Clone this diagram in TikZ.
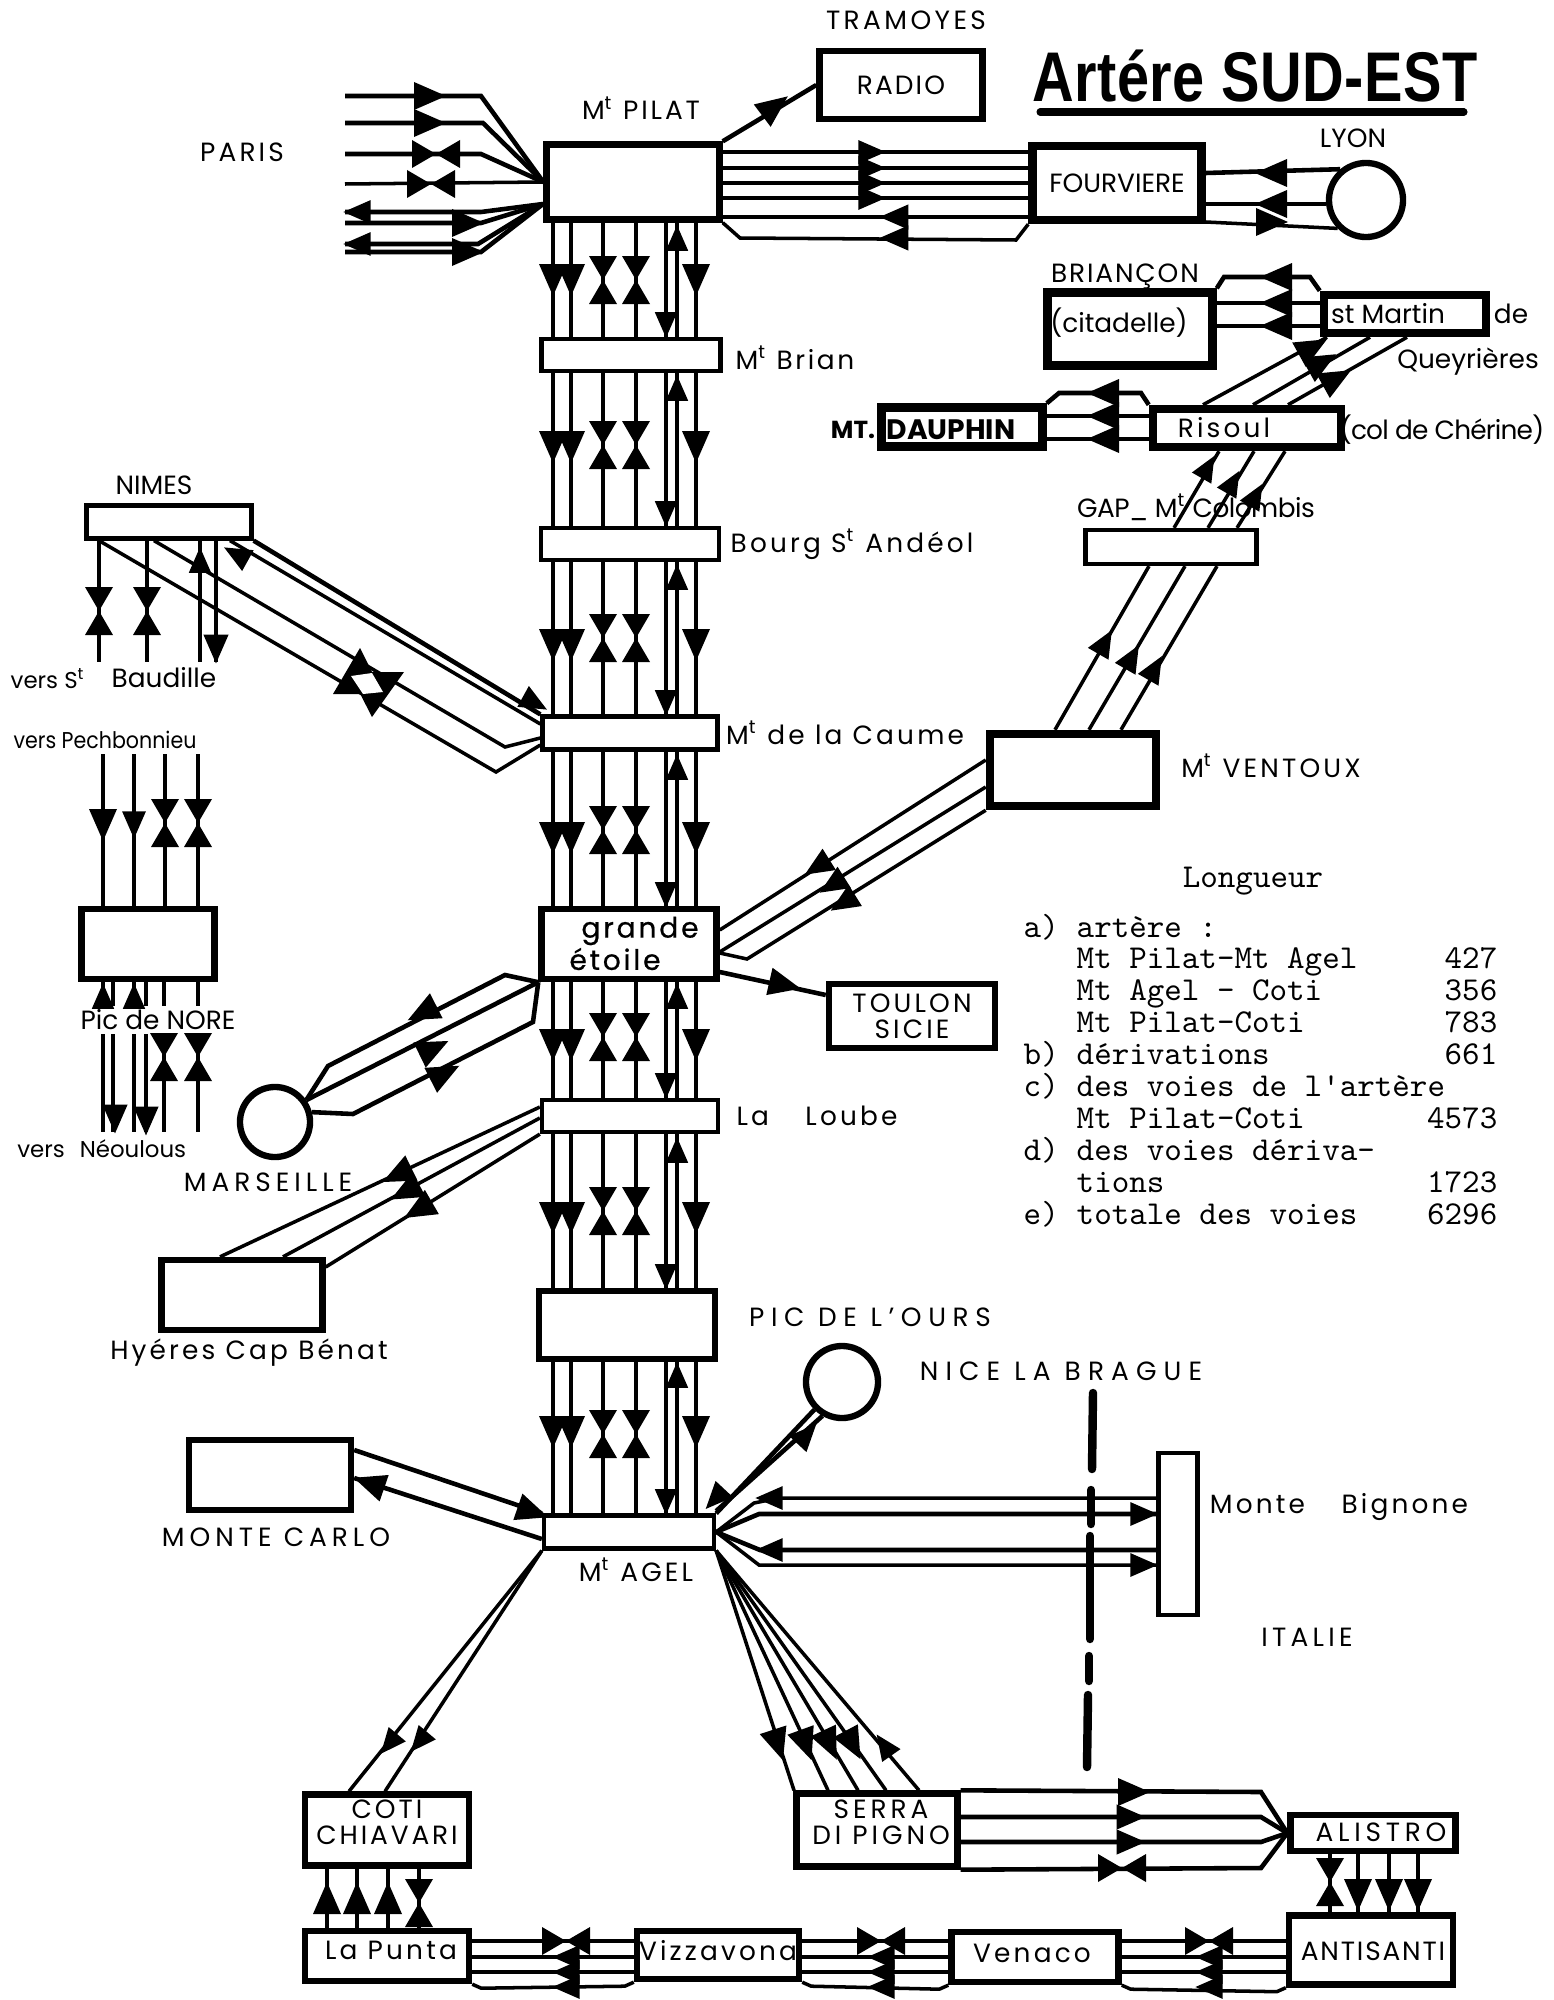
\documentclass[tikz,border=0pt]{standalone}
\usepackage{fontspec}
\setmainfont{Poppins}
\newfontfamily\titlefont{Liberation Sans}
\usetikzlibrary{arrows,shapes,calc,positioning}
\tikzset{
	wire/.style={line width=1pt},
	fat/.style={line width=1.3pt},
	frontier/.style={line width=2.4pt, line cap=round},
	stn/.style={draw, line width=1.2pt, inner sep=0pt, align=center},
	stnfat/.style={stn, line width=1.8pt},
	stnheavy/.style={stn, line width=2.4pt},
	town/.style={circle, draw, line width=1.8pt, inner sep=0pt},
	lab/.style={font=\fontsize{7.5}{8.5}\selectfont, inner sep=0pt, align=center},
	spaced/.style={font=\fontsize{7.5}{7.5}\selectfont\addfontfeature{LetterSpace=#1}, inner sep=0pt, align=center},
	heavylab/.style={font=\fontsize{8}{8}\selectfont\addfontfeature{FakeBold=0.6,LetterSpace=10}, inner sep=0pt},
	boldlab/.style={font=\fontsize{#1}{#1}\bfseries\selectfont, inner sep=0pt},
	small/.style={font=\fontsize{6.5}{7}\selectfont, inner sep=0pt},
	legend/.style={font=\ttfamily\fontsize{9.5}{9.5}\selectfont, inner sep=0pt},
}
% one filled arrow head, and two heads tip to tip
\newcommand{\tipmark}[4][1]{\fill [shift={(#2,#3)}, rotate=#4, scale=#1] (16,0) -- (-16,14) -- (-16,-14) -- cycle;}
\newcommand{\bowmark}[4][1]{\fill [shift={(#2,#3)}, rotate=#4, scale=#1] (0,0) -- (24,14) -- (24,-14) -- cycle (0,0) -- (-24,14) -- (-24,-14) -- cycle;}
% seven lines of the main artery between two stations
\newcommand{\trunk}[6]{
	\foreach \xv in {553,571,603,636,666,677,696}
		\draw [wire] (#1.south -| \xv,0) -- (#2.north -| \xv,0);
	\foreach \xv in {553,571,696}
		\tipmark{\xv}{#3}{-90};
	\foreach \xv in {603,636}
		\bowmark{\xv}{#4}{90};
	\tipmark[0.8]{666}{#5}{-90}
	\tipmark[0.8]{677}{#6}{90}
}
% a band of lines with left heads and a bowtie on top, between two boxes
\newcommand{\corse}[3]{
	\foreach \yv in {1941,1957,1972}
		\draw [wire] (#1.east |- 0,\yv) -- (#2.west |- 0,\yv);
	\draw [wire] (#1.south east) -- ($(#1.south east)+(9,4)$) -- ($(#2.south west)+(-9,4)$) -- (#2.south west);
	\bowmark{#3}{1941}{0}
	\foreach \yv in {1957,1972,1987}
		\tipmark[0.85]{#3}{\yv}{180};
}
\begin{document}
\begin{tikzpicture}[x=0.01cm,y=-0.01cm]
	\useasboundingbox (0,0) rectangle (1553,2000);
	% stations of the artery
	\node [stnfat, minimum width=1.73cm, minimum height=0.75cm] (pilat) at (633,182) {};
	\node [stn, minimum width=1.79cm, minimum height=0.32cm] (brian) at (631,355) {};
	\node [stn, minimum width=1.78cm, minimum height=0.32cm] (bourg) at (630,544) {};
	\node [stn, minimum width=1.75cm, minimum height=0.33cm] (caume) at (630,733) {};
	\node [stnfat, minimum width=1.75cm, minimum height=0.70cm] (etoile) at (629,944) {};
	\node [stn, minimum width=1.76cm, minimum height=0.32cm] (loube) at (630,1116) {};
	\node [stnfat, minimum width=1.76cm, minimum height=0.68cm] (ours) at (627,1325) {};
	\node [stn, minimum width=1.70cm, minimum height=0.33cm] (agel) at (629,1532) {};
	% other stations
	\node [stnfat, minimum width=1.63cm, minimum height=0.68cm, spaced=8] (radio) at (901,85) {RADIO};
	\node [stnheavy, minimum width=1.69cm, minimum height=0.74cm, lab] (fourv) at (1117,183) {FOURVIERE};
	\node [town, minimum size=0.74cm] (lyon) at (1366,200) {};
	\node [stnheavy, minimum width=1.65cm, minimum height=0.73cm] (citadelle) at (1130,329) {};
	\node [stnheavy, minimum width=1.62cm, minimum height=0.38cm] (martin) at (1405,314) {};
	\node [stnheavy, minimum width=1.88cm, minimum height=0.38cm] (risoul) at (1247,428) {};
	\node [stnheavy, minimum width=1.61cm, minimum height=0.39cm] (dauphin) at (962,427) {};
	\node [stn, minimum width=1.71cm, minimum height=0.34cm] (gap) at (1171,547) {};
	\node [stnheavy, minimum width=1.66cm, minimum height=0.72cm] (ventoux) at (1073,770) {};
	\node [stnfat, minimum width=1.66cm, minimum height=0.64cm, spaced=12] (toulon) at (912,1016) {TOULON\\SICIE};
	\node [stn, minimum width=1.65cm, minimum height=0.33cm] (nimes) at (169,522) {};
	\node [stnfat, minimum width=1.33cm, minimum height=0.70cm] (nore) at (148,944) {};
	\node [town, minimum size=0.70cm] (marseille) at (275,1122) {};
	\node [stnfat, minimum width=1.61cm, minimum height=0.70cm] (hyeres) at (242,1295) {};
	\node [stnfat, minimum width=1.62cm, minimum height=0.70cm] (montecarlo) at (270,1475) {};
	\node [town, minimum size=0.72cm] (nice) at (842,1382) {};
	\node [stn, minimum width=0.39cm, minimum height=1.62cm] (bignone) at (1178,1534) {};
	\node [stnfat, minimum width=1.64cm, minimum height=0.71cm] (coti) at (387,1830) {};
	\node [stnfat, minimum width=1.64cm, minimum height=0.50cm] (punta) at (387,1956) {};
	\node [stnfat, minimum width=1.62cm, minimum height=0.48cm] (vizz) at (718,1955) {};
	\node [stnfat, minimum width=1.67cm, minimum height=0.50cm] (venaco) at (1035,1957) {};
	\node [stnfat, minimum width=1.64cm, minimum height=0.69cm] (antisanti) at (1371,1950) {};
	\node [stnfat, minimum width=1.65cm, minimum height=0.36cm] (alistro) at (1373,1833) {};
	\node [stnfat, minimum width=1.61cm, minimum height=0.73cm] (serra) at (877,1830) {};
	% main artery
	\trunk{pilat}{brian}{280}{280}{325}{238}
	\trunk{brian}{bourg}{447}{445}{514}{388}
	\trunk{bourg}{caume}{645}{638}{703}{577}
	\trunk{caume}{etoile}{838}{830}{895}{767}
	\trunk{etoile}{loube}{1045}{1037}{1086}{996}
	\trunk{loube}{ours}{1218}{1211}{1277}{1150}
	\trunk{ours}{agel}{1432}{1434}{1502}{1375}
	% Paris
	\foreach \n/\yv in {a/96,b/123,c/154,d/184,e/212,f/223,g/244,h/252}
		\coordinate (paris\n) at (345,\yv);
	\coordinate (pilatfan) at (543,204);
	\draw [fat] (parisa) -- (481,96) -- (pilat.west);
	\draw [fat] (parisb) -- (483,123) -- (pilat.west);
	\draw [fat] (parisc) -- (481,154) -- (pilat.west);
	\draw [wire] (parisd) -- (pilat.west);
	\draw [fat] (parise) -- (481,212) -- (pilatfan);
	\draw [fat] (parisf) -- (481,223) -- (pilatfan);
	\draw [fat] (parisg) -- (478,244) -- (pilatfan);
	\draw [fat] (parish) -- (481,252) -- (pilatfan);
	\tipmark{430}{96}{0}
	\tipmark{430}{123}{0}
	\bowmark{436}{154}{0}
	\bowmark{431}{184}{0}
	\tipmark[0.85]{357}{212}{180}
	\tipmark{468}{223}{0}
	\tipmark[0.85]{357}{244}{180}
	\tipmark{468}{252}{0}
	% Radio, Fourviere, Lyon
	\draw [fat] (pilat.north east) -- (radio.west);
	\tipmark{775}{106}{37}
	\foreach \yv in {152,168,183,198,217}
		\draw [wire] (pilat.east |- 0,\yv) -- (fourv.west |- 0,\yv);
	\draw [wire] (pilat.south east) -- (740,238) -- (1016,240) -- (fourv.south west);
	\foreach \yv in {152,168,183,198}
		\tipmark[0.85]{872}{\yv}{0};
	\tipmark[0.9]{894}{217}{180}
	\tipmark[0.9]{894}{238}{180}
	\draw [fat] (fourv.east |- 0,173) -- (lyon.130);
	\draw [fat] (fourv.east |- 0,204) -- (lyon.west |- 0,204);
	\draw [wire] (fourv.east |- 0,222) -- (lyon.-135);
	\tipmark{1271}{173}{180}
	\tipmark{1271}{204}{180}
	\tipmark{1272}{222}{0}
	% Briancon, St Martin, Risoul, Dauphin
	\draw [fat] (citadelle.north east) -- (1224,277) -- (1310,277) -- (martin.north west);
	\foreach \yv in {303,326}
		\draw [fat] (citadelle.east |- 0,\yv) -- (martin.west |- 0,\yv);
	\foreach \yv in {277,303,326}
		\tipmark{1276}{\yv}{180};
	\draw [fat] (dauphin.north east) -- (1059,393) -- (1141,393) -- (risoul.north west);
	\foreach \yv in {416,439}
		\draw [fat] (dauphin.east |- 0,\yv) -- (risoul.west |- 0,\yv);
	\foreach \yv in {393,416,439}
		\tipmark{1103}{\yv}{180};
	\foreach \xa/\xb in {1203/1327,1253/1370,1288/1407}
		\draw [wire] (risoul.north -| \xa,0) -- (martin.south -| \xb,0);
	\tipmark{1313}{347}{29}
	\tipmark{1322}{362}{29}
	\tipmark{1337}{378}{29}
	% Gap, Ventoux
	\foreach \xa/\xb in {1174/1219,1208/1254,1237/1285}
		\draw [wire] (gap.north -| \xa,0) -- (risoul.south -| \xb,0);
	\tipmark[0.8]{1208}{467}{60}
	\tipmark[0.8]{1233}{482}{60}
	\tipmark[0.8]{1256}{495}{60}
	\foreach \xa/\xb in {1055/1149,1089/1185,1121/1217}
		\draw [wire] (ventoux.north -| \xa,0) -- (gap.south -| \xb,0);
	\tipmark[0.85]{1105}{642}{60}
	\tipmark[0.85]{1132}{657}{60}
	\tipmark[0.85]{1155}{668}{60}
	\draw [wire] (etoile.east |- 0,930) -- (ventoux.west |- 0,760);
	\draw [wire] (etoile.east |- 0,952) -- (ventoux.west |- 0,787);
	\draw [wire] (etoile.east |- 0,953) -- (747,959) -- (ventoux.south west);
	\tipmark[0.9]{817}{867}{212}
	\tipmark[0.9]{832}{885}{212}
	\tipmark[0.9]{843}{903}{212}
	% Toulon
	\draw [fat] (etoile.east |- 0,972) -- (toulon.west |- 0,995);
	\tipmark{785}{985}{-13}
	% Nimes
	\foreach \xv in {99,147,200,216}
		\draw [fat] (nimes.south -| \xv,0) -- (\xv,662);
	\foreach \xv in {99,147}
		\bowmark{\xv}{611}{90};
	\tipmark[0.8]{200}{560}{90}
	\tipmark[0.9]{216}{649}{-90}
	\draw [fat] (nimes.south east) -- (caume.north west);
	\draw [wire] (nimes.south -| 230,0) -- (caume.west |- 0,724);
	\tipmark[0.85]{236}{554}{151}
	\tipmark[0.85]{535}{703}{-29}
	\draw [wire] (nimes.south -| 154,0) -- (505,747) -- (caume.west |- 0,738);
	\draw [wire] (nimes.south -| 99,0) -- (496,772) -- (caume.west |- 0,745);
	\fill (360,648) -- (333,694) -- (383,694) -- cycle;
	\fill (372,717) -- (349,672) -- (404,672) -- cycle;
	\fill [white] (351,676) -- (372,673) -- (383,692) -- (363,694) -- cycle;
	% Pic de Nore
	\foreach \xv in {103,134,165,198}
		\draw [fat] (\xv,754) -- (nore.north -| \xv,0);
	\tipmark{103}{825}{-90}
	\tipmark[0.85]{134}{825}{-90}
	\bowmark{165}{823}{90}
	\bowmark{198}{823}{90}
	\foreach \xv in {103,113,134,146,164,198}
		\draw [fat] (nore.south -| \xv,0) -- (\xv,1006) (\xv,1034) -- (\xv,1132);
	\tipmark[0.8]{103}{996}{90}
	\tipmark[0.8]{134}{996}{90}
	\tipmark[0.9]{115}{1119}{-90}
	\tipmark[0.9]{146}{1121}{-90}
	\bowmark{164}{1057}{90}
	\bowmark{198}{1057}{90}
	% Marseille
	\draw [fat] (marseille.35) -- (328,1066) -- (505,975) -- (etoile.south west);
	\draw [fat] (marseille.35) -- (etoile.south west);
	\draw [fat] (marseille.15) -- (353,1114) -- (533,1022) -- (etoile.south west);
	\tipmark{422}{1013}{207}
	\tipmark{434}{1048}{26}
	\tipmark{445}{1073}{27}
	% Hyeres
	\draw [wire] (hyeres.north -| 220,0) -- (loube.west |- 0,1107);
	\draw [wire] (hyeres.north -| 283,0) -- (loube.west |- 0,1118);
	\draw [wire] (hyeres.east |- 0,1267) -- (loube.south west);
	\tipmark{397}{1175}{206}
	\tipmark{405}{1192}{208}
	\tipmark{418}{1210}{210}
	% Monte Carlo
	\draw [fat] (montecarlo.east |- 0,1450) -- (agel.north west);
	\draw [fat] (montecarlo.east |- 0,1478) -- (agel.west |- 0,1539);
	\tipmark{533}{1512}{-19}
	\tipmark{369}{1483}{161}
	% Nice
	\draw [fat] (nice.-135) -- (agel.north east);
	\draw [fat] (nice.-120) -- (agel.east |- 0,1511);
	\tipmark[0.85]{715}{1499}{227}
	\tipmark[0.85]{807}{1434}{47}
	% Monte Bignone
	\draw [wire] (bignone.west |- 0,1498) -- (779,1498) -- (754,1503) -- (agel.east);
	\draw [fat] (agel.east) -- (759,1514) -- (bignone.west |- 0,1514);
	\draw [fat] (agel.east) -- (760,1550) -- (bignone.west |- 0,1550);
	\draw [wire] (agel.east) -- (759,1565) -- (bignone.west |- 0,1565);
	\tipmark[0.85]{769}{1498}{180}
	\tipmark[0.85]{769}{1550}{180}
	\tipmark[0.85]{1144}{1514}{0}
	\tipmark[0.85]{1144}{1565}{0}
	% frontier
	\draw [frontier] (1093,1393) -- (1092,1469);
	\draw [frontier] (1091,1490) -- (1091,1524);
	\draw [frontier] (1090,1536) -- (1090,1639);
	\draw [frontier] (1089,1656) -- (1089,1681);
	\draw [frontier] (1088,1695) -- (1087,1767);
	% Coti, La Punta
	\foreach \xa in {349,385}
		\draw [wire] (coti.north -| \xa,0) -- (agel.south west);
	\tipmark[0.8]{389}{1744}{230}
	\tipmark[0.8]{419}{1742}{230}
	\foreach \xv in {327,357,388,419}
		\draw [fat] (punta.north -| \xv,0) -- (coti.south -| \xv,0);
	\foreach \xv in {327,357,388}
		\tipmark{\xv}{1898}{90};
	\bowmark{419}{1903}{90}
	% Serra, Alistro, Antisanti
	\foreach \xv in {794,828,858,886,919}
		\draw [wire] (agel.south east) -- (serra.north -| \xv,0);
	\tipmark{778}{1745}{-72}
	\tipmark{806}{1745}{-70}
	\tipmark{830}{1745}{-65}
	\tipmark{853}{1745}{-62}
	\tipmark[0.8]{884}{1745}{125}
	\draw [fat] (serra.north east) -- (1261,1792) -- (alistro.west);
	\draw [fat] (serra.east |- 0,1817) -- (1261,1817) -- (alistro.west);
	\draw [fat] (serra.east |- 0,1842) -- (1261,1842) -- (alistro.west);
	\draw [fat] (serra.south east) -- (1261,1868) -- (alistro.west);
	\tipmark{1134}{1792}{0}
	\tipmark[0.9]{1131}{1817}{0}
	\tipmark[0.9]{1131}{1842}{0}
	\bowmark{1122}{1868}{0}
	\foreach \xv in {1330,1358,1389,1418}
		\draw [fat] (alistro.south -| \xv,0) -- (antisanti.north -| \xv,0);
	\bowmark{1330}{1882}{90}
	\foreach \xv in {1358,1389,1418}
		\tipmark{\xv}{1895}{-90};
	\corse{punta}{vizz}{566}
	\corse{vizz}{venaco}{881}
	\corse{venaco}{antisanti}{1209}
	% names
	\node [spaced=13] (ltramoyes) at (906,20) {TRAMOYES};
	\node [spaced=11] (lpilat) at (641,108) {M\textsuperscript{t} PILAT};
	\node [spaced=12] (lparis) at (242,152) {PARIS};
	\node [transform shape, xscale=0.82, font=\titlefont\bfseries\fontsize{20}{20}\selectfont\addfontfeature{LetterSpace=1}, inner sep=0pt] (title) at (1255,76) {Artére SUD-EST};
	\draw [line width=2pt, line cap=round] (1040,112) -- (1464,112);
	\node [lab] (llyon) at (1353,138) {LYON};
	\node [spaced=10] (lbrian) at (795,358) {M\textsuperscript{t} Brian};
	\node [spaced=12] (lbourg) at (852,544) {Bourg S\textsuperscript{t} Andéol};
	\node [spaced=12] (lcaume) at (845,733) {M\textsuperscript{t} de la Caume};
	\node [heavylab] (lgrande) at (640,931) {grande};
	\node [heavylab] (letoile) at (615,959) {étoile};
	\node [spaced=12] (lloube) at (817,1116) {La \quad Loube};
	\node [spaced=25] (lours) at (870,1317) {PIC DE L'OURS};
	\node [spaced=27] (lnice) at (1061,1371) {NICE LA BRAGUE};
	\node [spaced=12] (lbignone) at (1339,1507) {Monte \quad Bignone};
	\node [spaced=16] (litalie) at (1307,1637) {ITALIE};
	\node [spaced=12] (lagel) at (636,1570) {M\textsuperscript{t} AGEL};
	\node [spaced=19] (lmontecarlo) at (276,1537) {MONTE CARLO};
	\node [spaced=12] (lhyeres) at (249,1353) {Hyéres Cap Bénat};
	\node [spaced=19] (lmarseille) at (268,1182) {MARSEILLE};
	\node [spaced=7] (lbriancon) at (1125,277) {BRIANÇON};
	\node [lab] (lcitadelle) at (1119,323) {(citadelle)};
	\node [lab] (lmartin) at (1388,314) {st Martin};
	\node [lab] (lde) at (1511,314) {de};
	\node [lab] (lqueyrieres) at (1468,362) {Queyrières};
	\node [boldlab=7] (lmt) at (853,430) {MT.};
	\node [boldlab=8] (ldauphin) at (951,430) {DAUPHIN};
	\node [spaced=12] (lrisoul) at (1224,428) {Risoul};
	\node [spaced=-3] (lchenne) at (1442,430) {(col de Chérine)};
	\node [spaced=-2] (lgap) at (1196,507) {GAP\_ M\textsuperscript{t} Colombis};
	\node [spaced=12] (lventoux) at (1271,766) {M\textsuperscript{t} VENTOUX};
	\node [lab] (lnimes) at (154,485) {NIMES};
	\node [small] (lversa) at (48,679) {vers S\textsuperscript{t}};
	\node [lab] (lbaudille) at (164,678) {Baudille};
	\node [small, transform shape, xscale=0.9] (lpech) at (105,740) {vers Pechbonnieu};
	\node [lab] (lnore) at (158,1020) {Pic de NORE};
	\node [small] (lversb) at (41,1151) {vers};
	\node [small] (lneoulous) at (133,1149) {Néoulous};
	\node [spaced=12] (lpunta) at (391,1950) {La Punta};
	\node [spaced=12] (lvizz) at (718,1951) {Vizzavona};
	\node [spaced=12] (lvenaco) at (1032,1953) {Venaco};
	\node [spaced=7] (lantisanti) at (1373,1951) {ANTISANTI};
	\node [spaced=18] (lalistro) at (1381,1832) {ALISTRO};
	\node [spaced=11] (lcoti) at (387,1822) {COTI\\CHIAVARI};
	\node [spaced=15] (lserra) at (881,1822) {SERRA\\DI PIGNO};
	% lengths
	\node [legend] (llongueur) at (1253,881) {Longueur};
	\foreach \i/\yv/\item/\txt/\num in {1/937/a)/artère :/{},2/968/{}/Mt Pilat-Mt Agel/427,3/1000/{}/Mt Agel - Coti/356,4/1032/{}/Mt Pilat-Coti/783,5/1064/b)/dérivations/661,6/1096/c)/des voies de l'artère/{},7/1128/{}/Mt Pilat-Coti/4573,8/1160/d)/des voies dériva-/{},9/1192/{}/tions/1723,10/1224/e)/totale des voies/6296} {
		\node [legend, anchor=base west] (la\i) at (1023,\yv) {\item};
		\node [legend, anchor=base west] (lb\i) at (1076,\yv) {\txt};
		\node [legend, anchor=base east] (lc\i) at (1498,\yv) {\num};
	}
\end{tikzpicture}
\end{document}
